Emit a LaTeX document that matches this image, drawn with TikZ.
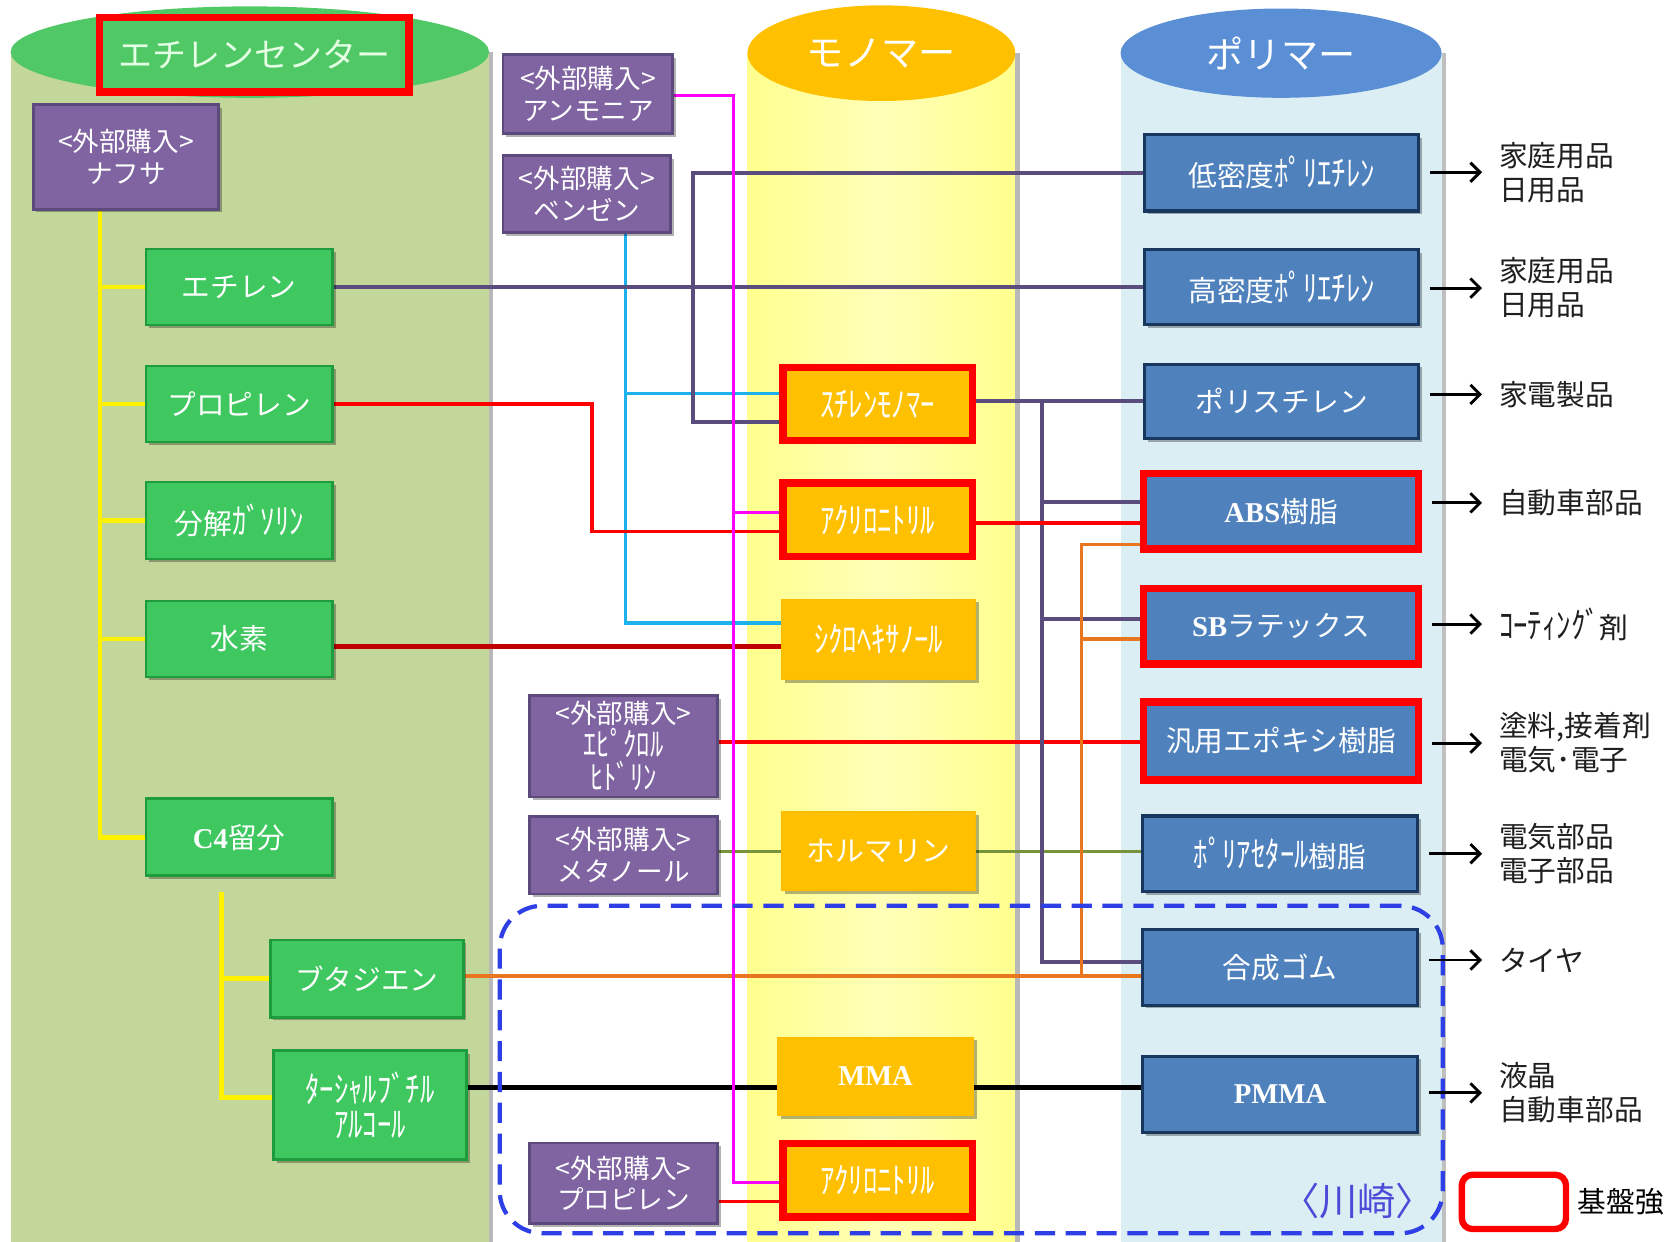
\documentclass[tikz,border=0pt]{standalone}
\usepackage{fontspec}
\usepackage{graphicx}
\setmainfont{Noto Sans CJK JP}
\newfontfamily\jpf{Noto Sans CJK JP}
\newfontfamily\serf{Liberation Serif}
\usetikzlibrary{arrows.meta,shadows}
\definecolor{lbody}{HTML}{C4D79B}
\definecolor{ltop}{HTML}{4FC865}
\definecolor{mbodyA}{HTML}{FFFF8E}
\definecolor{mbodyB}{HTML}{FFFFB8}
\definecolor{mtop}{HTML}{FFC000}
\definecolor{rbody}{HTML}{DBEEF4}
\definecolor{rtop}{HTML}{5A8FD6}
\definecolor{gfill}{HTML}{3EC85F}
\definecolor{gbord}{HTML}{1E9C3D}
\definecolor{pfill}{HTML}{8064A2}
\definecolor{pbord}{HTML}{5C4A7C}
\definecolor{yfill}{HTML}{FFC000}
\definecolor{bfill}{HTML}{4F81BD}
\definecolor{bbord}{HTML}{17375E}
\definecolor{wpur}{HTML}{5A4C7C}
\definecolor{wcyan}{HTML}{1CB0EC}
\definecolor{wdred}{HTML}{C00000}
\definecolor{wmag}{HTML}{FF00FF}
\definecolor{wred}{HTML}{FF0000}
\definecolor{worange}{HTML}{E8761E}
\definecolor{wolive}{HTML}{77933C}
\definecolor{kblue}{HTML}{2F3FE6}
\definecolor{ktext}{HTML}{4B4BD8}
\newcommand\bxfont{\jpf\fontsize{27}{31}\selectfont}
\newcommand\pufont{\jpf\fontsize{25}{30}\selectfont}
\newcommand\lbfont{\jpf\fontsize{27}{32}\selectfont}
\newcommand\latb[1]{{\serf\bfseries #1}}
\newcommand\hk[1]{\scalebox{1}[1.25]{#1}}
\pgfdeclarelayer{cyl}
\pgfdeclarelayer{wires}
\pgfsetlayers{cyl,wires,main}
\begin{document}
\begin{tikzpicture}[x=1pt,y=-1pt,
  sz/.style 2 args={minimum width=#1, minimum height=#2},
  base/.style={inner sep=0pt, align=center,
    drop shadow={shadow xshift=3pt,shadow yshift=-3pt,opacity=.3,fill=black}},
  gbox/.style={base, fill=gfill, draw=gbord, line width=2.5pt, text=white, font=\bxfont},
  pbox/.style={base, fill=pfill, draw=pbord, line width=2.5pt, text=white, font=\pufont},
  ybox/.style={base, fill=yfill, draw=yfill!92!orange, line width=1pt, text=white, font=\bxfont},
  yred/.style={ybox, draw=wred, line width=7pt},
  bbox/.style={base, fill=bfill, draw=bbord, line width=3pt, text=white, font=\bxfont},
  bred/.style={bbox, draw=wred, line width=7pt},
  outlab/.style={inner sep=0pt, anchor=west, align=left, text=black!88, font=\lbfont},
  outarr/.style={line width=2.7pt, -{Straight Barb[length=9pt,width=18pt]}, shorten <=9pt, shorten >=16pt},
  ytree/.style={draw=yellow, line width=4.5pt},
  wp/.style={draw=wpur, line width=3.5pt},
  wc/.style={draw=wcyan, line width=3pt},
  wr/.style={draw=wred, line width=3.5pt},
  wdr/.style={draw=wdred, line width=4pt},
  wm/.style={draw=wmag, line width=3pt},
  wo/.style={draw=worange, line width=3pt},
  wol/.style={draw=wolive, line width=3.5pt},
  wk/.style={draw=black, line width=4pt},
  region/.style={draw=kblue, line width=4pt, dash pattern=on 19pt off 10pt, rounded corners=40pt,
    minimum width=887pt, minimum height=308pt, inner sep=0pt},
  cyltitle/.style={text=white, inner sep=0pt, font=\jpf\fontsize{35}{35}\selectfont}
]
\useasboundingbox (0,0) rectangle (1568,1168);

% ---------- titles ----------
\node[draw=wred, line width=7pt, fill=ltop, inner sep=0pt, sz={291pt}{70pt},
      text=white!90!green, font=\jpf\fontsize{32}{32}\selectfont] (title) at (239,51.5) {エチレンセンター};
\node[cyltitle] (tmono) at (829,50) {モノマー};
\node[cyltitle] (tpoly) at (1205,50) {ポリマー};

% ---------- ethylene center column ----------
\node[pbox, sz={174.5pt}{98.5pt}] (naph) at (118.5,147.5) {<外部購入>\\ナフサ};
\node[gbox, sz={175.5pt}{71.5pt}] (eth) at (225,270) {エチレン};
\node[gbox, sz={175.5pt}{71.5pt}] (prop) at (225,380) {プロピレン};
\node[gbox, sz={175.5pt}{72.5pt}] (gas) at (225,489.5) {分解\hk{ｶﾞｿﾘﾝ}};
\node[gbox, sz={175.5pt}{71.5pt}] (h2) at (225,601) {水素};
\node[gbox, sz={175.5pt}{72.5pt}] (c4) at (225,787.5) {\latb{C4}留分};
\node[gbox, sz={181.5pt}{72.5pt}] (buta) at (345,920.5) {ブタジエン};
\node[gbox, sz={181.5pt}{102.5pt}, font=\jpf\fontsize{27}{33}\selectfont] (tba) at (348,1039.5) {\hk{ﾀｰｼｬﾙﾌﾞﾁﾙ}\\\hk{ｱﾙｺｰﾙ}};

% ---------- purchased ----------
\node[pbox, sz={159.5pt}{74.5pt}] (amm) at (553,88.5) {<外部購入>\\アンモニア};
\node[pbox, sz={157.5pt}{72.5pt}] (benz) at (552,182.5) {<外部購入>\\ベンゼン};
\node[pbox, sz={176.5pt}{95.5pt}, font=\jpf\fontsize{25}{31}\selectfont] (epi) at (586.5,702) {<外部購入>\\\hk{ｴﾋﾟｸﾛﾙ}\\\hk{ﾋﾄﾞﾘﾝ}};
\node[pbox, sz={176.5pt}{72.5pt}] (meth) at (586.5,804.5) {<外部購入>\\メタノール};
\node[pbox, sz={176.5pt}{75.5pt}] (pprop) at (586.5,1113) {<外部購入>\\プロピレン};

% ---------- monomers ----------
\node[yred, sz={178pt}{69pt}] (sm) at (825.5,380) {\hk{ｽﾁﾚﾝﾓﾉﾏｰ}};
\node[yred, sz={178pt}{69pt}] (acn1) at (825.5,489) {\hk{ｱｸﾘﾛﾆﾄﾘﾙ}};
\node[ybox, sz={182pt}{76pt}] (cyh) at (826.5,601.5) {\hk{ｼｸﾛﾍｷｻﾉｰﾙ}};
\node[ybox, sz={182pt}{74pt}] (form) at (826.5,800.5) {ホルマリン};
\node[ybox, sz={184pt}{74pt}] (mma) at (823.5,1012.5) {\latb{MMA}};
\node[yred, sz={178pt}{69pt}] (acn2) at (825.5,1110) {\hk{ｱｸﾘﾛﾆﾄﾘﾙ}};

% ---------- polymers ----------
\node[bbox, sz={258pt}{72pt}] (ldpe) at (1205.5,162.5) {低密度\hk{ﾎﾟﾘｴﾁﾚﾝ}};
\node[bbox, sz={258pt}{71pt}] (hdpe) at (1205.5,270) {高密度\hk{ﾎﾟﾘｴﾁﾚﾝ}};
\node[bbox, sz={258pt}{70pt}] (ps) at (1205.5,377.5) {ポリスチレン};
\node[bred, sz={259pt}{71pt}] (abs) at (1205,481) {\latb{ABS}樹脂};
\node[bred, sz={259pt}{71pt}] (sbl) at (1205,589) {\latb{SB}ラテックス};
\node[bred, sz={259pt}{73pt}] (epoxy) at (1205,697) {汎用エポキシ樹脂};
\node[bbox, sz={259pt}{71pt}] (pom) at (1204,803) {\hk{ﾎﾟﾘｱｾﾀｰﾙ}樹脂};
\node[bbox, sz={259pt}{71pt}] (rubber) at (1204,910) {合成ゴム};
\node[bbox, sz={259pt}{72pt}] (pmma) at (1204,1029.5) {\latb{PMMA}};

% ---------- uses ----------
\node[outlab] (u1) at (1410,162) {家庭用品\\日用品};
\node[outlab] (u2) at (1410,271) {家庭用品\\日用品};
\node[outlab] (u3) at (1410,371) {家電製品};
\node[outlab] (u4) at (1410,473) {自動車部品};
\node[outlab] (u5) at (1410,587) {\hk{ｺｰﾃｨﾝｸﾞ}剤};
\node[outlab] (u6) at (1410,699) {塗料,接着剤\\電気･電子};
\node[outlab] (u7) at (1410,803) {電気部品\\電子部品};
\node[outlab] (u8) at (1410,903) {タイヤ};
\node[outlab] (u9) at (1410,1028) {液晶\\自動車部品};
\draw[outarr] (ldpe.east |- u1.west) -- (u1.west);
\draw[outarr] (hdpe.east |- u2.west) -- (u2.west);
\draw[outarr] (ps.east |- u3.west) -- (u3.west);
\draw[outarr] (abs.east |- u4.west) -- (u4.west);
\draw[outarr] (sbl.east |- u5.west) -- (u5.west);
\draw[outarr] (epoxy.east |- u6.west) -- (u6.west);
\draw[outarr] (pom.east |- u7.west) -- (u7.west);
\draw[outarr] (rubber.east |- u8.west) -- (u8.west);
\draw[outarr] (pmma.east |- u9.west) -- (u9.west);

% ---------- legend & region label ----------
\node[draw=wred, line width=6pt, rounded corners=10pt, sz={98pt}{51pt}, fill=white, inner sep=0pt] (legend) at (1424,1130.5) {};
\node[anchor=west, inner sep=0pt, font=\lbfont, text=black] (legtext) at (1484,1130) {基盤強};
\node[text=ktext, inner sep=0pt, font=\jpf\fontsize{36}{36}\selectfont] (kwlab) at (1277,1130) {〈川崎〉};

% ---------- cylinders ----------
\begin{pgfonlayer}{cyl}
\fill[white] (0,0) rectangle (1568,1168);
\fill[lbody] (10,49) rectangle (460,1168);
\fill[black!28] (460,49) rectangle (464,1168);
\fill[ltop] (235,49) ellipse [x radius=225pt, y radius=43pt];
\shade[left color=mbodyA, right color=mbodyA, middle color=mbodyB] (703,50) rectangle (955,1168);
\fill[black!28] (955,50) rectangle (959,1168);
\fill[mtop] (829,50) ellipse [x radius=126pt, y radius=45pt];
\fill[rbody] (1054,50) rectangle (1356,1168);
\fill[black!25] (1356,50) rectangle (1360,1168);
\fill[rtop] (1205,50) ellipse [x radius=151pt, y radius=42pt];
\end{pgfonlayer}

% ---------- connectors ----------
\begin{pgfonlayer}{wires}
\draw[ytree] (naph.south -| 94,0) -- (94,787.5) -- (c4.west);
\foreach \n in {eth,prop,gas,h2} \draw[ytree] (\n.west -| 94,0) -- (\n.west);
\draw[ytree] (208,839) -- (208,1032) -- (tba.west |- 0,1032);
\draw[ytree] (208,920.5) -- (buta.west);

\draw[wc] (benz.south -| 588,0) |- (cyh.west |- 0,586);
\draw[wc] (588,370) -- (sm.west |- 0,370);

\draw[wp] (eth.east) -- (hdpe.west);
\draw[wp] (ldpe.west) -| (652,270) |- (sm.west |- 0,397);

\draw[wr] (prop.east) -| (557,500) -- (acn1.west |- 0,500);
\draw[wdr] (h2.east |- 0,608) -- (cyh.west |- 0,608);
\draw[wr] (pprop.east |- 0,1130) -- (acn2.west |- 0,1130);
\draw[wr] (epi.east |- 0,698) -- (epoxy.west |- 0,698);

\draw[wol] (meth.east |- 0,801) -- (form.west |- 0,801);
\draw[wol] (form.east |- 0,801) -- (pom.west |- 0,801);

\draw[wp] (sm.east |- 0,377) -- (ps.west |- 0,377);
\draw[wp] (980,377) |- (rubber.west |- 0,905);
\draw[wp] (980,472) -- (abs.west |- 0,472);
\draw[wp] (980,582) -- (sbl.west |- 0,582);

\draw[wr] (acn1.east |- 0,492) -- (abs.west |- 0,492);

\draw[wo] (buta.east |- 0,918) -- (rubber.west |- 0,918);
\draw[wo] (1017,918) |- (abs.west |- 0,512);
\draw[wo] (1017,601) -- (sbl.west |- 0,601);

\draw[wk] (tba.east |- 0,1023) -- (mma.west |- 0,1023);
\draw[wk] (mma.east |- 0,1023) -- (pmma.west |- 0,1023);

\draw[wm] (amm.east |- 0,90) -| (690,1112) -- (acn2.west |- 0,1112);
\draw[wm] (690,482) -- (acn1.west |- 0,482);

\node[region] (kawa) at (913.5,1006) {};
\end{pgfonlayer}
\end{tikzpicture}
\end{document}
